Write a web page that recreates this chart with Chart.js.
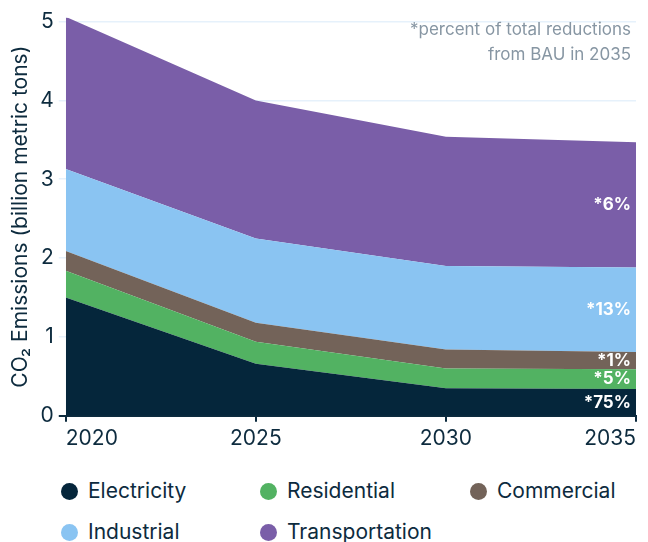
<!DOCTYPE html>
<html>
<head>
<meta charset="utf-8">
<script src="https://cdn.jsdelivr.net/npm/chart.js@4/dist/chart.umd.min.js"></script>
<style>
  body { margin: 0; background: #fff; font-family: Inter, "Noto Sans", sans-serif; }
  #wrap { position: relative; width: 648px; height: 542px; }
  #box { position: absolute; left: 0; top: 0; width: 648px; height: 460px; }
  .leg { position: absolute; font-size: 21px; color: #0d2b3e; line-height: 24px; white-space: nowrap; }
  .leg span.dot { position: absolute; left: -27px; top: 4px; width: 17px; height: 17px; border-radius: 50%; }
</style>
</head>
<body>
<div id="wrap">
  <div id="box"><canvas id="myChart"></canvas></div>
  <div id="legend"></div>
</div>
<script>
// data
var years = ['2020', '2025', '2030', '2035'];
var names = ['Electricity', 'Residential', 'Commercial', 'Industrial', 'Transportation'];
var electricity    = [1.50, 0.66, 0.35, 0.34];
var residential    = [0.34, 0.28, 0.25, 0.25];
var commercial     = [0.25, 0.24, 0.24, 0.22];
var industrial     = [1.04, 1.07, 1.06, 1.07];
var transportation = [1.93, 1.75, 1.64, 1.59];
var shares = ['*75%', '*5%', '*1%', '*13%', '*6%'];
var yTicks = [0, 1, 2, 3, 4, 5];

var colors = ['#05263b', '#52b262', '#736359', '#8ac4f2', '#7a5ea8'];
var series = [electricity, residential, commercial, industrial, transportation];
var ink = '#0d2b3e';

var datasets = [];
for (var i = 0; i < series.length; i++) {
    datasets.push({
        label: names[i],
        data: series[i],
        backgroundColor: colors[i],
        borderColor: colors[i],
        borderWidth: 0,
        pointRadius: 0,
        tension: 0,
        fill: i == 0 ? 'origin' : '-1'
    });
}

// white share labels at the right edge + the note at top right
var textPlugin = {
    id: 'texts',
    afterDatasetsDraw: function(chart) {
        var ctx = chart.ctx;
        var area = chart.chartArea;
        var y = chart.scales.y;
        ctx.save();
        ctx.textAlign = 'right';
        ctx.textBaseline = 'middle';
        ctx.fillStyle = '#ffffff';
        ctx.font = 'bold 17px Inter, "Noto Sans", sans-serif';
        var prev = y.getPixelForValue(0);
        for (var i = 0; i < chart.data.datasets.length; i++) {
            var meta = chart.getDatasetMeta(i);
            var pt = meta.data[meta.data.length - 1];
            ctx.fillText(shares[i], area.right - 5, (pt.y + prev) / 2);
            prev = pt.y;
        }
        ctx.fillStyle = '#8796a3';
        ctx.font = '17px Inter, "Noto Sans", sans-serif';
        ctx.fillText('*percent of total reductions', area.right - 5, 30);
        ctx.fillText('from BAU in 2035', area.right - 5, 55);
        ctx.restore();
    }
};

var ctx = document.getElementById('myChart').getContext('2d');
var myChart = new Chart(ctx, {
    type: 'line',
    data: { labels: years, datasets: datasets },
    plugins: [textPlugin],
    options: {
        responsive: true,
        maintainAspectRatio: false,
        animation: false,
        layout: { padding: { top: 0, right: 12, left: 8, bottom: 5 } },
        plugins: { legend: { display: false }, tooltip: { enabled: false } },
        scales: {
            x: {
                offset: false,
                border: { display: true, color: ink, width: 2 },
                grid: { drawOnChartArea: false, drawTicks: true, tickLength: 6, color: ink, lineWidth: 2 },
                ticks: { align: 'inner', color: ink, padding: 4, font: { family: 'Inter', size: 21 } }
            },
            y: {
                stacked: true,
                min: 0,
                max: 5.05,
                afterBuildTicks: function(axis) {
                    axis.ticks = yTicks.map(function(v) { return { value: v }; });
                },
                border: { display: false },
                grid: {
                    color: function(c) { return c.tick && c.tick.value == 0 ? ink : '#e6f1fb'; },
                    lineWidth: function(c) { return c.tick && c.tick.value == 0 ? 2 : 1.5; },
                    tickLength: 7
                },
                ticks: { color: ink, padding: 5, font: { family: 'Inter', size: 21 } },
                title: {
                    display: true,
                    text: 'CO\u2082 Emissions (billion metric tons)',
                    color: ink,
                    font: { family: 'Inter', size: 21 },
                    padding: { top: 0, bottom: 2 }
                }
            }
        }
    }
});

// html legend, two rows
var legPos = [[88, 479], [287, 479], [497, 479], [88, 520], [287, 520]];
var leg = document.getElementById('legend');
for (var k = 0; k < names.length; k++) {
    var d = document.createElement('div');
    d.className = 'leg';
    d.style.left = legPos[k][0] + 'px';
    d.style.top = legPos[k][1] + 'px';
    d.innerHTML = '<span class="dot" style="background:' + colors[k] + '"></span>' + names[k];
    leg.appendChild(d);
}
</script>
</body>
</html>
